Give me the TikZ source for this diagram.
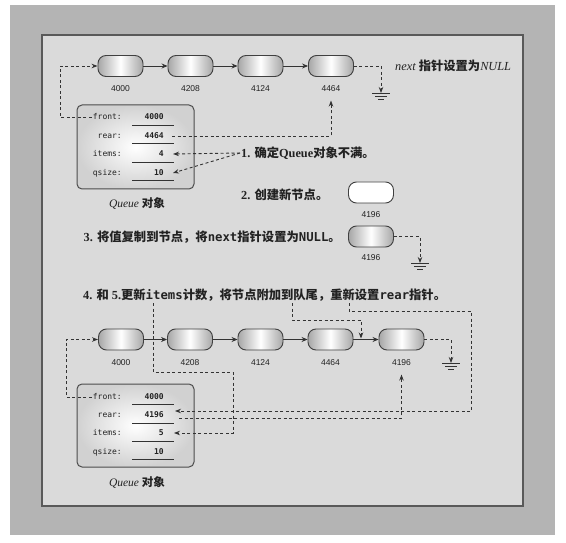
\documentclass[tikz,border=0pt]{standalone}
\usepackage{fontspec}
\setmainfont{Liberation Serif}
\newfontfamily\cjk{Noto Sans CJK SC}
\newfontfamily\monof{DejaVu Sans Mono}
\newfontfamily\numf{Liberation Sans}
\usetikzlibrary{arrows.meta}
\newcommand\zh[1]{{\cjk\bfseries #1}}
\newcommand\mtt[1]{{\monof\bfseries #1}}
\definecolor{outerbg}{HTML}{B4B4B4}
\definecolor{innerbg}{HTML}{DADADA}
\definecolor{ink}{HTML}{222222}
\begin{document}
\begin{tikzpicture}[x=1pt,y=-1pt,
  lnode/.style={draw=black!75, line width=0.9pt, rounded corners=8pt,
    minimum width=45pt, minimum height=21pt, inner sep=0pt,
    left color=black!35, right color=black!35, middle color=white},
  wnode/.style={lnode, fill=white, left color=white, right color=white, middle color=white},
  nlabel/.style={font=\numf\fontsize{8.5}{10}\selectfont, text=ink},
  qbox/.style={draw=black!70, line width=1pt, rounded corners=5pt,
    minimum width=117pt, minimum height=84pt, inner sep=0pt,
    inner color=white, outer color=black!18},
  qkey/.style={anchor=east, font=\monof\fontsize{8}{9}\selectfont, text=ink, inner sep=1pt},
  qval/.style={anchor=east, font=\monof\bfseries\fontsize{8}{9}\selectfont, text=ink, inner sep=1pt},
  uline/.style={line width=0.8pt, black!80},
  stepT/.style={font=\fontsize{12.3}{14}\selectfont, text=ink, inner sep=1pt},
  caption/.style={font=\fontsize{11.5}{13}\selectfont, text=ink},
  link/.style={-{Stealth[length=6pt,width=5pt]}, line width=0.8pt, black!80},
  dsh/.style={dash pattern=on 3pt off 2.5pt, line width=0.9pt, black!80},
  darr/.style={dsh, -{Stealth[length=6pt,width=4.5pt]}},
  ground/.pic={\draw[line width=0.8pt, black!80] (-9,0)--(9,0) (-6,3)--(6,3) (-3,6)--(3,6);}
]
\useasboundingbox (0,0) rectangle (566,543);
\fill[outerbg] (10,5) rectangle (555,535);
\filldraw[fill=innerbg, draw=black!65, line width=1.2pt] (42,35) rectangle (523,506);

% ---------- top list ----------
\node[lnode] (a1) at (120.5,66) {};
\node[lnode] (a2) at (190.5,66) {};
\node[lnode] (a3) at (260.5,66) {};
\node[lnode] (a4) at (331,66) {};
\node[nlabel] (a1l) at (120.5,89) {4000};
\node[nlabel] (a2l) at (190.5,89) {4208};
\node[nlabel] (a3l) at (260.5,89) {4124};
\node[nlabel] (a4l) at (331,89) {4464};
\draw[link] (a1) -- (a2);
\draw[link] (a2) -- (a3);
\draw[link] (a3) -- (a4);
\coordinate (g1) at (381,93);
\draw[darr] (a4.east) -| (g1);
\pic at (g1) {ground};
\node[stepT, anchor=west] (nt) at (394,66) {{\itshape next} \zh{指针设置为}{\itshape NULL}};

% ---------- top queue ----------
\node[qbox] (q1) at (135.5,147) {};
\node[qkey] (f1k) at (123,117) {front:};
\node[qkey] (r1k) at (123,136) {rear:};
\node[qkey] (i1k) at (123,154) {items:};
\node[qkey] (z1k) at (123,173) {qsize:};
\node[qval] (f1v) at (165,117) {4000};
\node[qval] (r1v) at (165,136) {4464};
\node[qval] (i1v) at (165,154) {4};
\node[qval] (z1v) at (165,173) {10};
\draw[uline] (132,125) -- (174,125);
\draw[uline] (132,143.5) -- (174,143.5);
\draw[uline] (132,162) -- (174,162);
\draw[uline] (132,180) -- (174,180);
\node[caption] (q1c) at (137,203) {{\itshape Queue} \zh{对象}};
\coordinate (lx1) at (60,0);
\draw[darr] (f1k.west) -- (f1k.west -| lx1) |- (a1.west);
\draw[darr] ([xshift=7pt]r1v.east) -| ([yshift=-5pt]a4l.south);

% ---------- step 1 ----------
\node[stepT, anchor=west] (s1) at (240,153) {{\bfseries 1. }\zh{确定}{\bfseries Queue}\zh{对象不满。}};
\draw[darr] (s1.west) -- ([xshift=8pt]i1v.east);
\draw[darr] (s1.west) -- ([xshift=8pt]z1v.east);

% ---------- step 2 ----------
\node[stepT, anchor=west] (s2) at (240,195) {{\bfseries 2. }\zh{创建新节点。}};
\node[wnode] (b1) at (371,192.5) {};
\node[nlabel] (b1l) at (371,215) {4196};

% ---------- step 3 ----------
\node[stepT, anchor=east] (s3) at (342,237) {{\bfseries 3. }\zh{将值复制到节点，将}\mtt{next}\zh{指针设置为}\mtt{NULL}\zh{。}};
\node[lnode] (c1) at (371,236.5) {};
\node[nlabel] (c1l) at (371,258) {4196};
\coordinate (g2) at (420,263);
\draw[darr] (c1.east) -| (g2);
\pic at (g2) {ground};

% ---------- step 4 ----------
\node[stepT, anchor=west] (s4) at (82,295) {{\bfseries 4. }\zh{和} {\bfseries 5.}\zh{更新}\mtt{items}\zh{计数，将节点附加到队尾，重新设置}\mtt{rear}\zh{指针。}};

% ---------- bottom list ----------
\node[lnode] (m1) at (121,339.5) {};
\node[lnode] (m2) at (190,339.5) {};
\node[lnode] (m3) at (260.5,339.5) {};
\node[lnode] (m4) at (330.5,339.5) {};
\node[lnode] (m5) at (401.5,339.5) {};
\node[nlabel] (m1l) at (121,363) {4000};
\node[nlabel] (m2l) at (190,363) {4208};
\node[nlabel] (m3l) at (260.5,363) {4124};
\node[nlabel] (m4l) at (330.5,363) {4464};
\node[nlabel] (m5l) at (401.5,363) {4196};
\draw[link] (m1) -- (m2);
\draw[link] (m2) -- (m3);
\draw[link] (m3) -- (m4);
\draw[link] (m4) -- (m5);
\coordinate (g3) at (451,363);
\draw[darr] (m5.east) -| (g3);
\pic at (g3) {ground};

% ---------- bottom queue ----------
\node[qbox, minimum height=83pt] (q2) at (135.5,425.5) {};
\node[qkey] (f2k) at (123,397) {front:};
\node[qkey] (r2k) at (123,415) {rear:};
\node[qkey] (i2k) at (123,433) {items:};
\node[qkey] (z2k) at (123,452) {qsize:};
\node[qval] (f2v) at (165,397) {4000};
\node[qval] (r2v) at (165,415) {4196};
\node[qval] (i2v) at (165,433) {5};
\node[qval] (z2v) at (165,452) {10};
\draw[uline] (132,404) -- (174,404);
\draw[uline] (132,423) -- (174,423);
\draw[uline] (132,441) -- (174,441);
\draw[uline] (132,459) -- (174,459);
\node[caption] (q2c) at (137,482) {{\itshape Queue} \zh{对象}};
\coordinate (lx2) at (66,0);
\draw[darr] (f2k.west) -- (f2k.west -| lx2) |- (m1.west);

% connectors from step 4 text
\coordinate (pa) at (153,303);
\coordinate (ka) at (233,372);
\draw[darr] (pa) |- (ka) |- ([xshift=9pt]i2v.east);
\coordinate (pb) at (292,303);
\coordinate (kb) at (361,320);
\draw[darr, shorten >=1pt] (pb) |- (kb) -- (kb |- m4.east);
\coordinate (pc) at (349,303);
\coordinate (kc) at (471,311);
\draw[darr] (pc) |- (kc) |- ([xshift=10pt,yshift=4pt]r2v.east);
\draw[darr] ([xshift=14pt,yshift=-3pt]r2v.east) -| ([yshift=-5pt]m5l.south);
\end{tikzpicture}
\end{document}
